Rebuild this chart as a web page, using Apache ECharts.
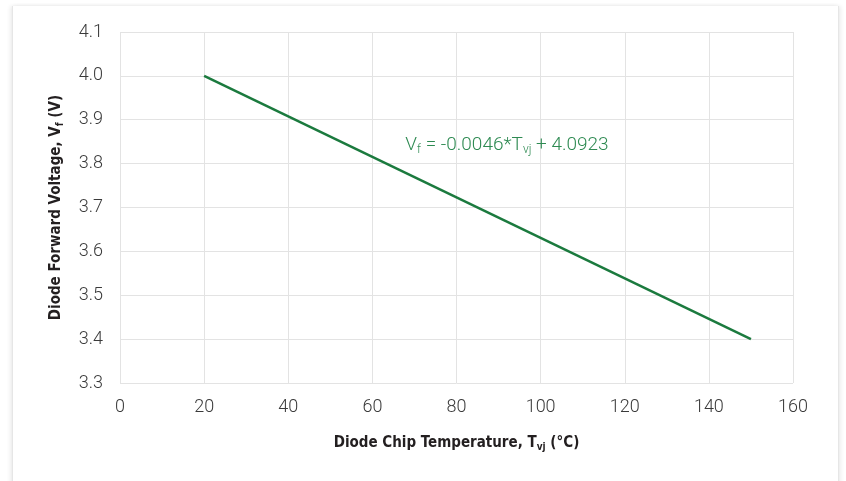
<!DOCTYPE html>
<html>
<head>
<meta charset="utf-8">
<script src="https://cdn.jsdelivr.net/npm/echarts@6/dist/echarts.min.js"></script>
<style>
html,body{margin:0;padding:0;background:#fff;width:846px;height:481px;overflow:hidden;}
#frame{position:absolute;left:12px;top:6px;width:825px;height:520px;border-left:1px solid #e6e6e6;border-right:1px solid #e6e6e6;box-shadow:-2px 0 4px rgba(0,0,0,0.07),2px 0 4px rgba(0,0,0,0.07);background:#fff;}
#chart{position:absolute;left:0;top:0;width:846px;height:481px;}
</style>
</head>
<body>
<div id="frame"></div>
<div id="chart"></div>
<script>
const temperatures = [20, 150];
const forwardVoltage = [4.0, 3.4];
const xTicks = [0, 20, 40, 60, 80, 100, 120, 140, 160];
const yTicks = [3.3, 3.4, 3.5, 3.6, 3.7, 3.8, 3.9, 4.0, 4.1];
const equationAnchor = [92, 3.842];

const chart = echarts.init(document.getElementById('chart'));
const tickFont = {color:'#3a3a3a', fontSize:18, fontFamily:'Roboto', fontWeight:300};
const titleFont = 'DejaVu Sans Condensed';
const titleRich = {
  b:{fontFamily:titleFont, fontWeight:'bold', fontSize:15, color:'#231f20'},
  s:{fontFamily:titleFont, fontWeight:'bold', fontSize:10, color:'#231f20', verticalAlign:'bottom', padding:[8,0,0,0]}
};
chart.setOption({
  animation:false,
  grid:{left:120, right:53, top:32, bottom:98},
  xAxis:{
    type:'value', min:xTicks[0], max:xTicks[xTicks.length-1], interval:20,
    axisLine:{show:false}, axisTick:{show:false},
    splitLine:{show:true, lineStyle:{color:'#e3e3e3', width:1}},
    axisLabel:Object.assign({margin:15}, tickFont),
    name:'{b|Diode Chip Temperature, T}{s|vj}{b| (°C)}',
    nameLocation:'middle', nameGap:51,
    nameTextStyle:{rich:titleRich}
  },
  yAxis:{
    type:'value', min:yTicks[0], max:yTicks[yTicks.length-1], interval:0.1,
    axisLine:{show:false}, axisTick:{show:false},
    splitLine:{show:true, lineStyle:{color:'#e3e3e3', width:1}},
    axisLabel:Object.assign({margin:17, formatter:v=>v.toFixed(1)}, tickFont),
    name:'{b|Diode Forward Voltage, V}{s|f}{b| (V)}',
    nameLocation:'middle', nameGap:55, nameRotate:90,
    nameTextStyle:{rich:titleRich}
  },
  series:[{
    type:'line',
    data:temperatures.map((t,i)=>[t, forwardVoltage[i]]),
    symbol:'none',
    lineStyle:{color:'#1b7a3e', width:2.5},
    markPoint:{
      symbol:'circle', symbolSize:0,
      data:[{coord:equationAnchor}],
      label:{
        show:true, position:'inside',
        formatter:'{t|V}{s|f}{t| = -0.0046*T}{s|vj}{t| + 4.0923}',
        rich:{
          t:{fontFamily:'Roboto', fontWeight:300, fontSize:19, color:'#2e8a52'},
          s:{fontFamily:'Roboto', fontWeight:300, fontSize:12, color:'#2e8a52', verticalAlign:'bottom', padding:[10,0,0,0]}
        }
      }
    }
  }]
});
</script>
</body>
</html>
